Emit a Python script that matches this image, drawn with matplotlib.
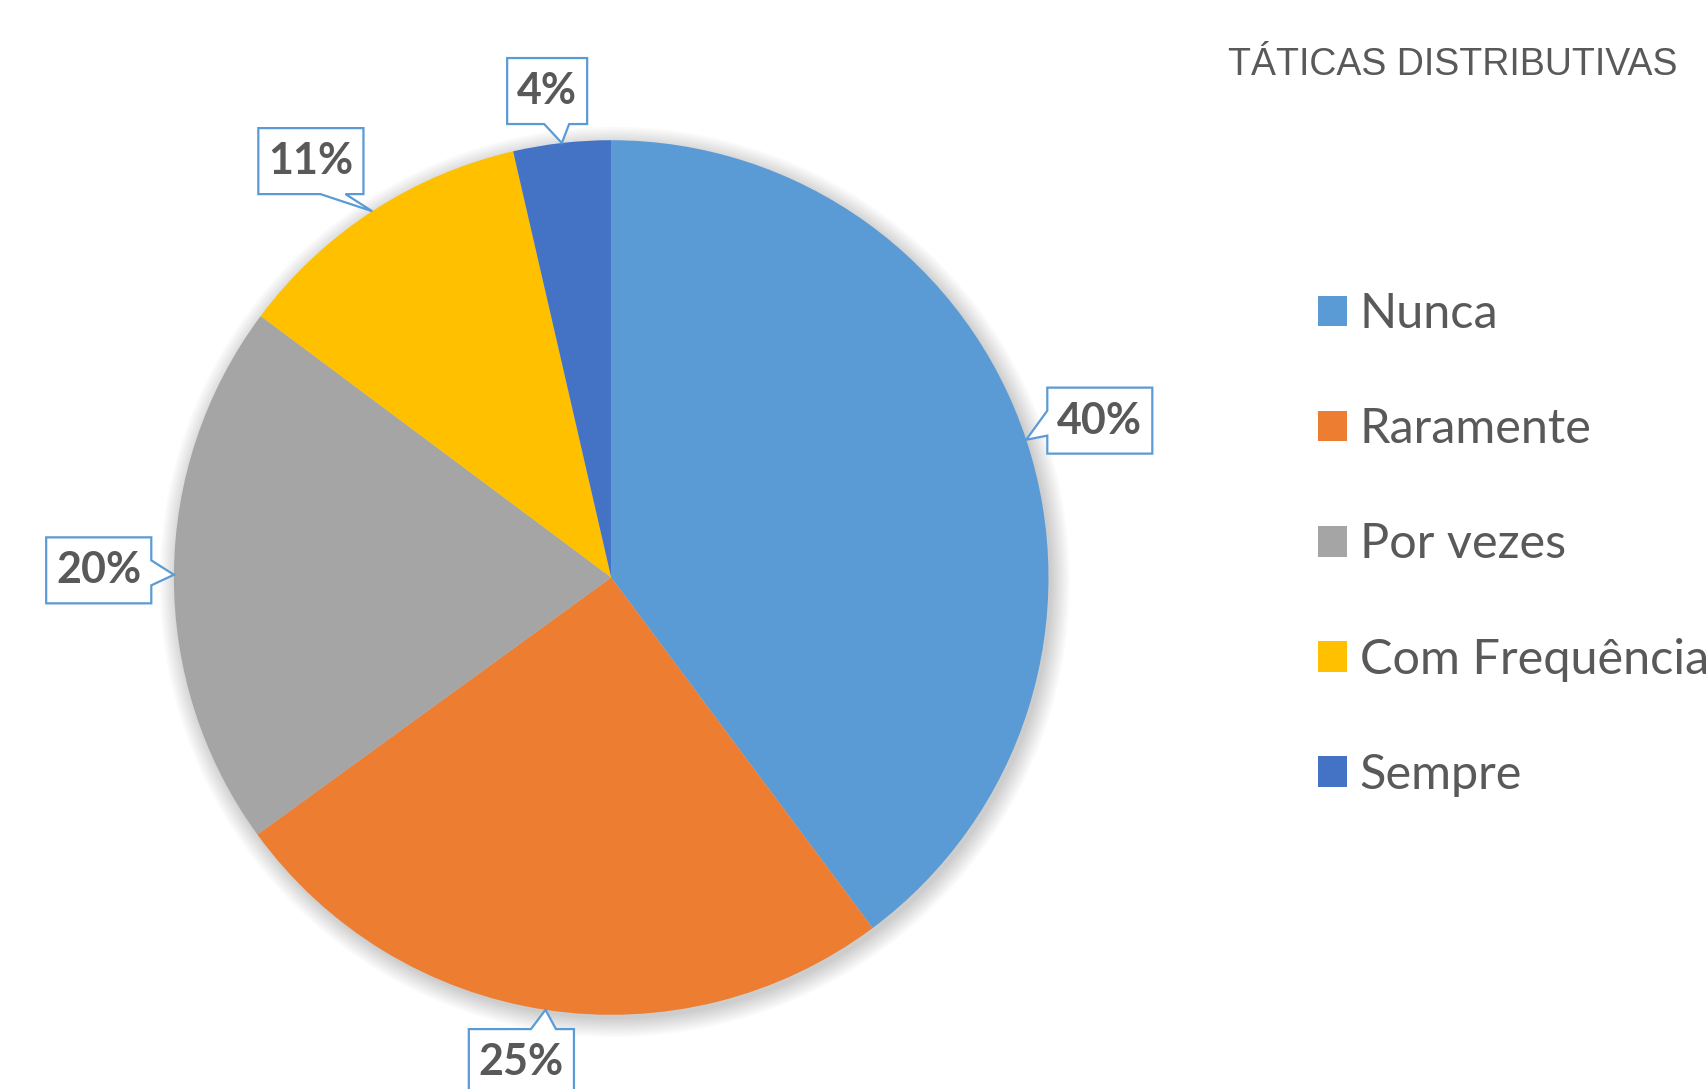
import numpy as np
import matplotlib
matplotlib.use('Agg')
import matplotlib.pyplot as plt
from matplotlib.patches import Polygon, Patch, Circle

categories = ['Nunca', 'Raramente', 'Por vezes', 'Com Frequência', 'Sempre']
values = [39.8, 25.2, 20.2, 11.2, 3.6]
colors = ['#5B9BD5', '#ED7D31', '#A5A5A5', '#FFC000', '#4472C4']
title = 'TÁTICAS DISTRIBUTIVAS'

# label box placement (layout): radius factor and angular shift from wedge mid-angle
label_radius = [1.1735, 1.127, 1.172, 1.174, 1.122]
label_shift_deg = [-0.56, -1.86, -0.44, 2.68, 1.02]

TEXT = '#595959'
EDGE = '#5B9BD5'
W, H = 1708, 1089
fig = plt.figure(figsize=(W / 100, H / 100), dpi=100)
ax = fig.add_axes([0, 0, 1, 1])

cx_px, cy_px, R_px = 611.2, 577.5, 437.3

# soft shadow
for i in range(10):
    ax.add_patch(Circle((0.008, -0.010), 1.0 + i * 0.0045, color='black',
                        alpha=0.018, lw=0, zorder=0))

wedges, _ = ax.pie(values, colors=colors, startangle=90, counterclock=False,
                   radius=1, wedgeprops=dict(linewidth=0, zorder=1))

ax.set_xlim(-cx_px / R_px, (W - cx_px) / R_px)
ax.set_ylim(-(H - cy_px) / R_px, cy_px / R_px)
ax.set_aspect('auto')
ax.axis('off')

renderer = fig.canvas.get_renderer()

hh = 33.0 / R_px
pad = 10.0 / R_px
bw = 25.0 / R_px
margin = 18.0 / R_px


def callout(bx, by, hw, tx, ty):
    l, r, b, t = bx - hw, bx + hw, by - hh, by + hh
    dx, dy = (tx - bx) / hw, (ty - by) / hh
    if abs(dx) >= abs(dy):
        lo, hi = b + margin + bw / 2, t - margin - bw / 2
        c = min(max(ty, lo), hi)
        if dx < 0:
            pts = [(l, t), (l, c + bw / 2), (tx, ty), (l, c - bw / 2), (l, b), (r, b), (r, t)]
        else:
            pts = [(r, b), (r, c - bw / 2), (tx, ty), (r, c + bw / 2), (r, t), (l, t), (l, b)]
    else:
        lo, hi = l + margin + bw / 2, r - margin - bw / 2
        c = min(max(tx, lo), hi)
        if dy < 0:
            pts = [(l, b), (c - bw / 2, b), (tx, ty), (c + bw / 2, b), (r, b), (r, t), (l, t)]
        else:
            pts = [(r, t), (c + bw / 2, t), (tx, ty), (c - bw / 2, t), (l, t), (l, b), (r, b)]
    return pts


for w, v, rf, sh in zip(wedges, values, label_radius, label_shift_deg):
    mid = (w.theta1 + w.theta2) / 2
    ang = np.deg2rad(mid)
    tx, ty = np.cos(ang), np.sin(ang)
    bang = np.deg2rad(mid + sh)
    bx, by = rf * np.cos(bang), rf * np.sin(bang)
    txt = ax.text(bx, by, f'{round(v)}%', ha='center', va='center', fontsize=31,
                  fontweight='bold', family='Lato', color=TEXT, zorder=6)
    tw = txt.get_window_extent(renderer).width / R_px
    hw = tw / 2 + pad
    poly = Polygon(callout(bx, by, hw, tx, ty), closed=True, facecolor='white',
                   edgecolor=EDGE, lw=1.6, zorder=5, clip_on=False)
    ax.add_patch(poly)

fig.text(1228 / W, 1 - 75 / H, title, ha='left', va='baseline', fontsize=27,
         family='Liberation Sans', color=TEXT)

handles = [Patch(facecolor=c, edgecolor='none') for c in colors]
leg = ax.legend(handles, categories, loc='upper left',
                bbox_to_anchor=(1318 / W, 1 - 292 / H), bbox_transform=fig.transFigure,
                frameon=False, prop=dict(family='Lato', size=35), labelcolor=TEXT,
                handlelength=0.59, handleheight=0.59, handletextpad=0.27,
                labelspacing=1.465, borderpad=0, borderaxespad=0)

fig.savefig('out.png', dpi=100, facecolor='white')
